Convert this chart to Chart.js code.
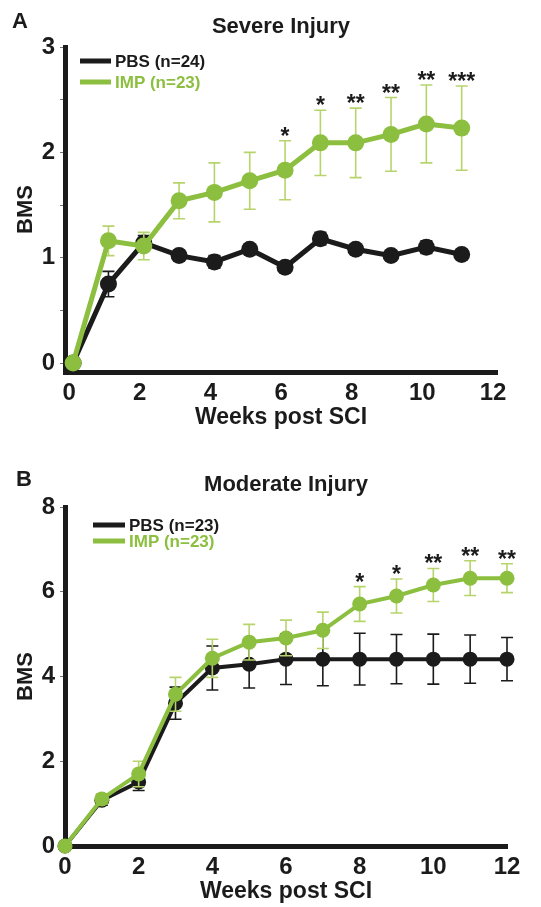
<!DOCTYPE html>
<html>
<head>
<meta charset="utf-8">
<script src="https://cdn.jsdelivr.net/npm/chart.js@4.4.0/dist/chart.umd.min.js"></script>
<style>
  html, body { margin: 0; padding: 0; background: #fff; }
  .panel { position: absolute; left: 0; width: 541px; }
  #panelA { top: 0; height: 455px; }
  #panelB { top: 455px; height: 452px; }
</style>
</head>
<body>
<div class="panel" id="panelA"><canvas id="severeChart"></canvas></div>
<div class="panel" id="panelB"><canvas id="moderateChart"></canvas></div>
<script>
// A: severe injury
const weeksA = [0, 1, 2, 3, 4, 5, 6, 7, 8, 9, 10, 11];
const pbsA = [0, 0.75, 1.14, 1.02, 0.96, 1.08, 0.91, 1.18, 1.08, 1.02, 1.10, 1.03];
const pbsErrA = [0, 0.12, 0.07, 0.05, 0.06, 0.03, 0.03, 0.06, 0.03, 0.03, 0.06, 0.03];
const impA = [0, 1.16, 1.11, 1.54, 1.62, 1.73, 1.83, 2.09, 2.09, 2.17, 2.27, 2.23];
const impErrA = [0, 0.14, 0.13, 0.17, 0.28, 0.27, 0.28, 0.31, 0.33, 0.35, 0.37, 0.40];
const starsA = ['', '', '', '', '', '', '*', '*', '**', '**', '**', '***'];
const yTicksA = [0, 0.5, 1, 1.5, 2, 2.5, 3];

// B: moderate injury
const weeksB = [0, 1, 2, 3, 4, 5, 6, 7, 8, 9, 10, 11, 12];
const pbsB = [0, 1.08, 1.51, 3.37, 4.20, 4.29, 4.41, 4.41, 4.41, 4.41, 4.41, 4.41, 4.41];
const pbsErrB = [0, 0.12, 0.20, 0.38, 0.52, 0.56, 0.60, 0.63, 0.61, 0.58, 0.59, 0.57, 0.51];
const impB = [0, 1.11, 1.70, 3.58, 4.43, 4.81, 4.91, 5.09, 5.71, 5.90, 6.16, 6.32, 6.32];
const impErrB = [0, 0.12, 0.30, 0.40, 0.45, 0.42, 0.42, 0.43, 0.41, 0.40, 0.39, 0.41, 0.34];
const starsB = ['', '', '', '', '', '', '', '', '*', '*', '**', '**', '**'];
const yTicksB = [0, 2, 4, 6, 8];

const xTicks = [0, 2, 4, 6, 8, 10, 12];

const BLACK = '#1b1b1b';
const GREEN = '#8cbf3f';
const GREEN_ERR = '#b7d46c';
const FONT = "'Liberation Sans', Arial, sans-serif";

// error bars drawn just before each line so the markers sit on top
const errorBars = {
    id: 'errorBars',
    beforeDatasetDraw(chart, args) {
        const ds = chart.data.datasets[args.index];
        if (!ds.errors) return;
        const ctx = chart.ctx;
        const x = chart.scales.x, y = chart.scales.y;
        ctx.save();
        ctx.strokeStyle = ds.errorColor;
        ctx.lineWidth = 1.6;
        ds.data.forEach((pt, i) => {
            const e = ds.errors[i];
            if (!e) return;
            const px = x.getPixelForValue(pt.x);
            const top = y.getPixelForValue(pt.y + e);
            const bot = y.getPixelForValue(pt.y - e);
            ctx.beginPath();
            ctx.moveTo(px, top); ctx.lineTo(px, bot);
            ctx.moveTo(px - 6, top); ctx.lineTo(px + 6, top);
            ctx.moveTo(px - 6, bot); ctx.lineTo(px + 6, bot);
            ctx.stroke();
        });
        ctx.restore();
    }
};

// panel letter, in-plot legend and significance stars
const decor = {
    id: 'decor',
    afterDraw(chart, args, opts) {
        const ctx = chart.ctx;
        const x = chart.scales.x, y = chart.scales.y;
        ctx.save();
        ctx.font = 'bold 22px ' + FONT;
        ctx.fillStyle = BLACK;
        ctx.textAlign = 'left';
        ctx.textBaseline = 'middle';
        ctx.fillText(opts.letter, opts.letterX, opts.letterY);

        ctx.font = 'bold 17px ' + FONT;
        opts.legend.forEach((item, i) => {
            const ly = opts.legendY + i * opts.legendGap;
            ctx.strokeStyle = item.color;
            ctx.lineWidth = 5;
            ctx.beginPath();
            ctx.moveTo(opts.legendX, ly);
            ctx.lineTo(opts.legendX + opts.legendLen, ly);
            ctx.stroke();
            ctx.fillStyle = item.color;
            ctx.fillText(item.text, opts.legendX + opts.legendLen + 4, ly + 1);
        });

        const ds = chart.data.datasets[1];
        ctx.font = 'bold 23px ' + FONT;
        ctx.fillStyle = BLACK;
        ctx.textAlign = 'center';
        ctx.textBaseline = 'alphabetic';
        opts.stars.forEach((s, i) => {
            if (!s) return;
            const pt = ds.data[i];
            const px = x.getPixelForValue(pt.x);
            const top = y.getPixelForValue(pt.y + ds.errors[i]);
            ctx.fillText(s, px, top + 3);
        });
        ctx.restore();
    }
};

function makeChart(id, cfg) {
    const pts = (xs, ys) => xs.map((w, i) => ({ x: w, y: ys[i] }));
    return new Chart(document.getElementById(id), {
        type: 'line',
        data: {
            datasets: [
                {
                    label: cfg.pbsLabel,
                    data: pts(cfg.weeks, cfg.pbs),
                    errors: cfg.pbsErr,
                    errorColor: BLACK,
                    borderColor: BLACK,
                    backgroundColor: BLACK,
                    borderWidth: cfg.lineWidth,
                    pointRadius: cfg.radius,
                    pointBorderWidth: 0,
                    tension: 0,
                    clip: false,
                    order: 1,
                },
                {
                    label: cfg.impLabel,
                    data: pts(cfg.weeks, cfg.imp),
                    errors: cfg.impErr,
                    errorColor: GREEN_ERR,
                    borderColor: GREEN,
                    backgroundColor: GREEN,
                    borderWidth: cfg.lineWidth,
                    pointRadius: cfg.radius,
                    pointBorderWidth: 0,
                    tension: 0,
                    clip: false,
                    order: 0,
                },
            ]
        },
        options: {
            responsive: true,
            maintainAspectRatio: false,
            animation: false,
            layout: { padding: { top: 0, left: 0, right: cfg.padRight, bottom: 0 } },
            plugins: {
                legend: { display: false },
                tooltip: { enabled: false },
                title: {
                    display: true,
                    text: cfg.title,
                    fullSize: false,
                    color: BLACK,
                    font: { family: FONT, size: 22, weight: 'bold', lineHeight: 1 },
                    padding: { top: cfg.titleTop, bottom: cfg.titleBottom },
                },
                decor: {
                    letter: cfg.letter, letterX: cfg.letterX, letterY: cfg.letterY,
                    legend: [
                        { text: cfg.pbsLabel, color: BLACK },
                        { text: cfg.impLabel, color: GREEN },
                    ],
                    legendX: cfg.legendX, legendY: cfg.legendY,
                    legendLen: cfg.legendLen, legendGap: cfg.legendGap,
                    stars: cfg.stars,
                },
            },
            scales: {
                x: {
                    type: 'linear',
                    min: cfg.xMin,
                    max: 12,
                    afterBuildTicks: (s) => { s.ticks = xTicks.map(v => ({ value: v })); },
                    afterFit: (s) => { s.height = cfg.xHeight; },
                    grid: { display: false, drawTicks: false },
                    border: { color: BLACK, width: 5 },
                    ticks: {
                        color: BLACK,
                        padding: 9,
                        labelOffset: cfg.labelOffset,
                        maxRotation: 0,
                        font: { family: FONT, size: 24, weight: 'bold', lineHeight: 1 },
                    },
                    title: {
                        display: true,
                        text: 'Weeks post SCI',
                        color: BLACK,
                        font: { family: FONT, size: 23, weight: 'bold', lineHeight: 1 },
                        padding: { top: 0, bottom: cfg.xTitlePad },
                    },
                },
                y: {
                    min: cfg.yMin,
                    max: cfg.yMax,
                    afterBuildTicks: (s) => { s.ticks = cfg.yTicks.map(v => ({ value: v })); },
                    afterFit: (s) => { s.width = 65; },
                    grid: { drawOnChartArea: false, tickLength: 5, color: '#777', tickColor: '#777', lineWidth: 1 },
                    border: { color: BLACK, width: 5 },
                    ticks: {
                        color: BLACK,
                        padding: 5,
                        font: { family: FONT, size: 24, weight: 'bold', lineHeight: 1 },
                        callback: (v) => Number.isInteger(v) ? String(v) : '',
                    },
                    title: {
                        display: true,
                        text: 'BMS',
                        color: BLACK,
                        font: { family: FONT, size: 22, weight: 'bold', lineHeight: 1 },
                        padding: { top: 15, bottom: 0 },
                    },
                },
            },
        },
        plugins: [errorBars, decor],
    });
}

makeChart('severeChart', {
    title: 'Severe Injury', letter: 'A', letterX: 12, letterY: 22,
    titleTop: 16, titleBottom: 9,
    pbsLabel: 'PBS (n=24)', impLabel: 'IMP (n=23)',
    weeks: weeksA, pbs: pbsA, pbsErr: pbsErrA, imp: impA, impErr: impErrA, stars: starsA,
    yTicks: yTicksA, yMin: -0.085, yMax: 3, xMin: -0.23, labelOffset: -4,
    xHeight: 83, xTitlePad: 25.5, padRight: 44,
    legendX: 80, legendY: 61, legendLen: 31, legendGap: 21,
    lineWidth: 5, radius: 8.5,
});

makeChart('moderateChart', {
    title: 'Moderate Injury', letter: 'B', letterX: 16, letterY: 25,
    titleTop: 19, titleBottom: 11,
    pbsLabel: 'PBS (n=23)', impLabel: 'IMP (n=23)',
    weeks: weeksB, pbs: pbsB, pbsErr: pbsErrB, imp: impB, impErr: impErrB, stars: starsB,
    yTicks: yTicksB, yMin: 0, yMax: 8, xMin: 0, labelOffset: 0,
    xHeight: 61, xTitlePad: 3.5, padRight: 34,
    legendX: 93, legendY: 70, legendLen: 32, legendGap: 16,
    lineWidth: 4, radius: 7.5,
});
</script>
</body>
</html>
